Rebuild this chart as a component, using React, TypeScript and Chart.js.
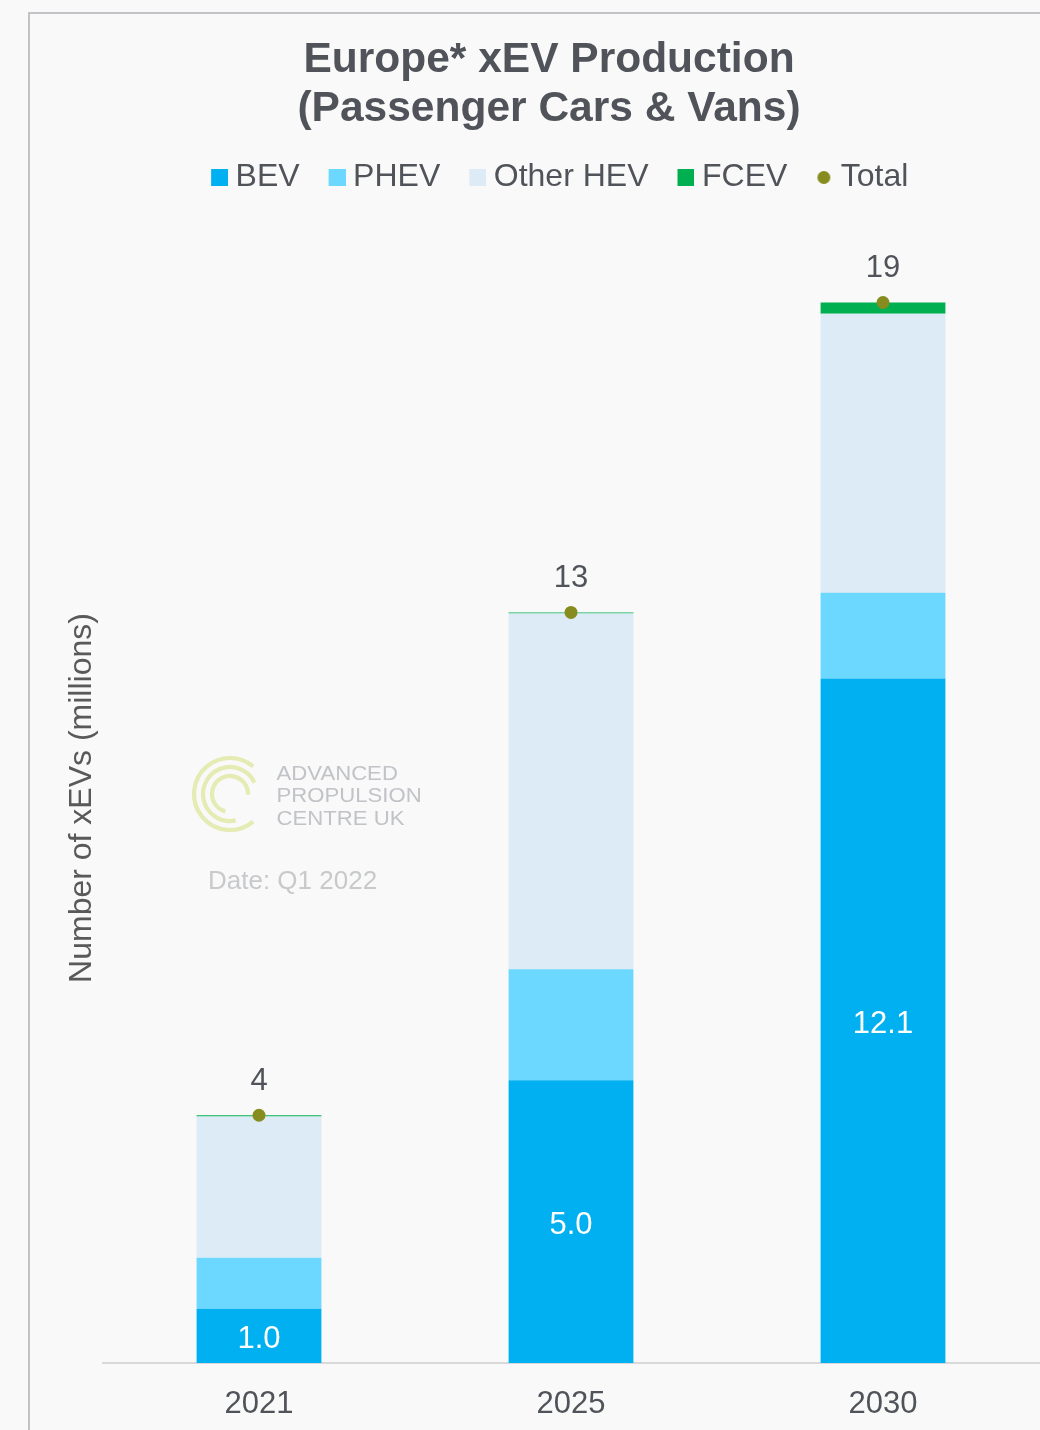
import React, { useEffect, useRef } from 'react';
import { Chart, registerables } from 'chart.js';

Chart.register(...registerables);

const FONT = '"Liberation Sans", Arial, Helvetica, sans-serif';

const years = ['2021', '2025', '2030'];
const seriesLabels = ['BEV', 'PHEV', 'Other HEV', 'FCEV', 'Total'];
const bevValues = [0.96, 5.0, 12.1];
const phevValues = [0.9, 1.96, 1.52];
const otherHevValues = [2.5, 6.29, 4.93];
const fcevValues = [0.02, 0.02, 0.2];
const totalValues = [4.38, 13.27, 18.75];
const yAxisTitle = 'Number of xEVs (millions)';

const seriesColors = ['#00B0F0', '#6DD8FF', '#DDEBF7', '#00B050', '#878C1E'];
const textColor = '#505359';

function makeSwatch(color: string, shape: 'rect' | 'circle') {
  const c = document.createElement('canvas');
  c.width = 47;
  c.height = 17;
  const g = c.getContext('2d')!;
  g.fillStyle = color;
  if (shape === 'rect') {
    g.fillRect(30, 0, 17, 17);
  } else {
    g.beginPath();
    g.arc(37.5, 8.5, 6.5, 0, Math.PI * 2);
    g.fill();
  }
  return c;
}

const watermarkPlugin = {
  id: 'watermark',
  beforeDatasetsDraw(chart: any) {
    const ctx = chart.ctx as CanvasRenderingContext2D;
    ctx.save();
    const cx = 200;
    const cy = 780;
    const deg = Math.PI / 180;
    ctx.strokeStyle = '#E4EBB3';
    ctx.lineWidth = 4.2;
    ctx.lineCap = 'butt';
    const arcs: [number, number, number][] = [
      [36, 50, 310],
      [27, 78, 335],
      [18, 105, 362],
    ];
    arcs.forEach(([r, a0, a1]) => {
      ctx.beginPath();
      ctx.arc(cx, cy, r, a0 * deg, a1 * deg);
      ctx.stroke();
    });
    ctx.fillStyle = '#C1C3C7';
    ctx.font = `20.5px ${FONT}`;
    ctx.textAlign = 'left';
    ctx.textBaseline = 'middle';
    const lines: [string, number][] = [
      ['ADVANCED', 760],
      ['PROPULSION', 782.5],
      ['CENTRE UK', 805.5],
    ];
    lines.forEach(([t, y]) => {
      ctx.save();
      ctx.translate(246.5, y);
      ctx.scale(1.08, 1);
      ctx.fillText(t, 0, 0);
      ctx.restore();
    });
    ctx.fillStyle = '#C8C9CB';
    ctx.font = `26px ${FONT}`;
    ctx.fillText('Date: Q1 2022', 178, 868);
    ctx.restore();
  },
};

const labelPlugin = {
  id: 'valueLabels',
  afterDatasetsDraw(chart: any) {
    const ctx = chart.ctx as CanvasRenderingContext2D;
    ctx.save();
    ctx.textAlign = 'center';
    ctx.textBaseline = 'middle';
    ctx.font = `31px ${FONT}`;
    const bevMeta = chart.getDatasetMeta(0);
    bevMeta.data.forEach((el: any, i: number) => {
      const p = el.getProps(['x', 'y', 'base'], true);
      ctx.fillStyle = '#FFFFFF';
      ctx.fillText(bevValues[i].toFixed(1), p.x, (p.y + p.base) / 2 + 4);
    });
    const totMeta = chart.getDatasetMeta(4);
    totMeta.data.forEach((el: any, i: number) => {
      ctx.fillStyle = textColor;
      ctx.fillText(String(Math.round(totalValues[i])), el.x, el.y - 34);
    });
    ctx.save();
    ctx.translate(52, 784);
    ctx.rotate(-Math.PI / 2);
    ctx.fillStyle = '#595959';
    ctx.font = `32px ${FONT}`;
    ctx.fillText(yAxisTitle, 0, 0);
    ctx.restore();
    ctx.restore();
  },
};

export default function App() {
  const ref = useRef<HTMLCanvasElement>(null);

  useEffect(() => {
    const canvas = ref.current;
    if (!canvas) return;
    const swatches = [
      makeSwatch(seriesColors[0], 'rect'),
      makeSwatch(seriesColors[1], 'rect'),
      makeSwatch(seriesColors[2], 'rect'),
      makeSwatch(seriesColors[3], 'rect'),
      makeSwatch(seriesColors[4], 'circle'),
    ];
    const barSeries = [bevValues, phevValues, otherHevValues, fcevValues];
    const datasets: any[] = barSeries.map((vals, i) => ({
      type: 'bar',
      label: seriesLabels[i],
      data: vals,
      backgroundColor: seriesColors[i],
      borderWidth: 0,
      barPercentage: 0.4,
      categoryPercentage: 1.0,
      stack: 'xev',
    }));
    datasets.push({
      type: 'line',
      label: seriesLabels[4],
      data: totalValues,
      showLine: false,
      pointRadius: 6.5,
      pointHoverRadius: 6.5,
      pointBorderWidth: 0,
      pointBackgroundColor: seriesColors[4],
      borderColor: seriesColors[4],
      backgroundColor: seriesColors[4],
      stack: 'total',
      order: -1,
    });

    const chart = new Chart(canvas, {
      type: 'bar',
      data: { labels: years, datasets },
      plugins: [watermarkPlugin, labelPlugin],
      options: {
        responsive: false,
        animation: false,
        devicePixelRatio: 1,
        layout: { padding: 0 },
        plugins: {
          title: {
            display: true,
            text: ['Europe* xEV Production', '(Passenger Cars & Vans)'],
            color: textColor,
            font: { family: FONT, size: 42.5, weight: 'bold', lineHeight: 49 / 42.5 },
            padding: { top: 22, bottom: 20 },
          },
          legend: {
            display: true,
            position: 'top',
            labels: {
              usePointStyle: true,
              pointStyleWidth: 30,
              boxHeight: 17,
              padding: 7.5,
              color: textColor,
              font: { family: FONT, size: 32 },
              generateLabels: (c: any) =>
                c.data.datasets.map((ds: any, i: number) => ({
                  text: ds.label,
                  fillStyle: seriesColors[i],
                  strokeStyle: seriesColors[i],
                  lineWidth: 0,
                  hidden: false,
                  datasetIndex: i,
                  pointStyle: swatches[i],
                  fontColor: textColor,
                })),
            },
          },
          tooltip: { enabled: false },
        },
        scales: {
          x: {
            stacked: true,
            grid: { display: false, drawTicks: false },
            border: { display: true, color: '#D9D9D9', width: 2 },
            ticks: { color: textColor, font: { family: FONT, size: 31 }, padding: 23 },
            afterFit: (s: any) => {
              s.height = 91;
            },
          },
          y: {
            stacked: true,
            min: 0,
            max: 20.5,
            grid: { display: false, drawTicks: false },
            border: { display: false },
            ticks: { display: false },
            title: { display: false },
            afterFit: (s: any) => {
              s.width = 73;
            },
          },
          yRight: {
            position: 'right',
            display: true,
            min: 0,
            max: 1,
            grid: { display: false, drawTicks: false },
            border: { display: false },
            ticks: { display: false },
            afterFit: (s: any) => {
              s.width = 29;
            },
          },
        },
      } as any,
    });
    return () => chart.destroy();
  }, []);

  return (
    <div
      style={{
        position: 'absolute',
        left: 0,
        top: 0,
        width: 1040,
        height: 1430,
        overflow: 'hidden',
        background: '#F9F9F9',
      }}
    >
      <div
        style={{
          position: 'absolute',
          left: 28,
          top: 12,
          width: 1100,
          height: 1500,
          borderLeft: '2px solid #C2C3C7',
          borderTop: '2px solid #C2C3C7',
          boxSizing: 'border-box',
        }}
      />
      <div style={{ position: 'absolute', left: 30, top: 14, width: 1038, height: 1440 }}>
        <canvas ref={ref} width={1038} height={1440} style={{ width: 1038, height: 1440, display: 'block' }} />
      </div>
    </div>
  );
}
